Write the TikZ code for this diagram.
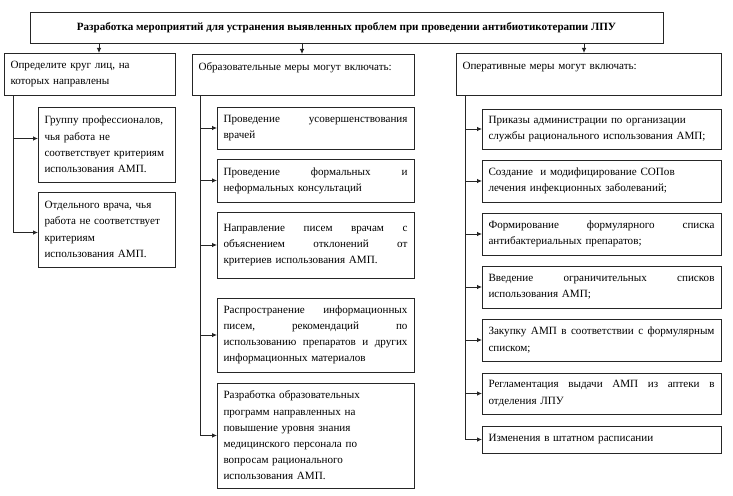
\documentclass[tikz,border=0pt]{standalone}
\usepackage{fontspec}
\setmainfont{Liberation Serif}
\usetikzlibrary{arrows.meta}
\newcommand\jf{\hskip 0.25em plus 1filll\relax}
\newcommand\bx[7][align=left]{\node[box,#1,anchor=north west,minimum width={#5-#3},minimum height={#6-#4},text width={#5-#3-13}] (#2) at (#3,#4) {#7};}
\tikzset{
  box/.style={draw=black!85,line width=0.9pt,inner xsep=6.5pt,inner ysep=2pt,outer sep=0pt,font=\fontsize{11.1}{16.2}\selectfont},
  line/.style={draw=black!85,line width=0.8pt},
  arr/.style={line,-{Latex[length=5pt,width=4.5pt]}}
}
\begin{document}
\begin{tikzpicture}[x=1pt,y=-1pt]
\useasboundingbox (0,0) rectangle (733,495);
\node[box,anchor=north west,minimum width=633,minimum height=31,align=center] (top) at (30,12)
  {\textbf{Разработка мероприятий для устранения выявленных проблем при проведении антибиотикотерапии ЛПУ}};
% column 1
\bx{h1}{4}{53}{175}{95}{Определите круг лиц, на\\которых направлены}
\bx{a1}{38}{107}{175}{182}{Группу профессионалов,\\чья работа не\\соответствует критериям\\использования АМП.}
\bx{a2}{38}{192}{175}{267}{Отдельного врача, чья\\работа не соответствует\\критериям\\использования АМП.}
% column 2
\bx{h2}{192}{54}{414}{95}{Образовательные меры могут включать:\\\mbox{}}
\bx{b1}{217}{107}{414}{149}{Проведение\jf усовершенствования\\врачей}
\bx{b2}{217}{159}{414}{202}{Проведение\jf формальных\jf и\\неформальных консультаций}
\bx{b3}{217}{212}{414}{278}{Направление\jf писем\jf врачам\jf с\\объяснением\jf отклонений\jf от\\критериев использования АМП.}
\bx{b4}{217}{298}{414}{372}{Распространение\jf информационных\\писем,\jf рекомендаций\jf по\\использованию\jf препаратов\jf и\jf других\\информационных материалов}
\bx{b5}{217}{383}{414}{488}{Разработка образовательных\\программ направленных на\\повышение уровня знания\\медицинского персонала по\\вопросам рационального\\использования АМП.}
% column 3
\bx{h3}{456}{53}{721}{95}{Оперативные меры могут включать:\\\mbox{}}
\bx{c1}{482}{109}{721}{149}{Приказы администрации по организации\\службы рационального использования АМП;}
\bx{c2}{482}{160}{721}{202}{Создание\ \ и модифицирование СОПов\\лечения инфекционных заболеваний;}
\bx{c3}{482}{213}{721}{255}{Формирование\jf формулярного\jf списка\\антибактериальных препаратов;}
\bx{c4}{482}{266}{721}{308}{Введение\jf ограничительных\jf списков\\использования АМП;}
\bx{c5}{482}{319}{721}{361}{Закупку\jf АМП\jf в\jf соответствии\jf с\jf формулярным\\списком;}
\bx{c6}{482}{373}{721}{414}{Регламентация\jf выдачи\jf АМП\jf из\jf аптеки\jf в\\отделения ЛПУ}
\bx{c7}{482}{426}{721}{453}{Изменения в штатном расписании}
% connectors from the title
\path ([xshift=9.5pt]h1.north) coordinate (e1);
\path ([xshift=-1pt]h2.north) coordinate (e2);
\path ([xshift=-4.5pt]h3.north) coordinate (e3);
\foreach \e in {e1,e2,e3} \draw[arr] (top.south -| \e) -- (\e);
% trunks
\path ([xshift=9pt]h1.south west) coordinate (t1);
\path ([xshift=8pt]h2.south west) coordinate (t2);
\path ([xshift=9pt]h3.south west) coordinate (t3);
\path ([yshift=6pt]a1.west) coordinate (a1in);
\path ([yshift=-3pt]a2.west) coordinate (a2in);
\draw[line] (t1) -- (t1 |- a2in);
\draw[line] (t2) -- (t2 |- b5.west);
\draw[line] (t3) -- (t3 |- c7.west);
\foreach \s in {a1in,a2in} \draw[arr] (t1 |- \s) -- (\s);
\foreach \s in {b1,b2,b3,b4,b5} \draw[arr] (t2 |- \s.west) -- (\s.west);
\foreach \s in {c1,c2,c3,c4,c5,c6,c7} \draw[arr] (t3 |- \s.west) -- (\s.west);
\end{tikzpicture}
\end{document}
